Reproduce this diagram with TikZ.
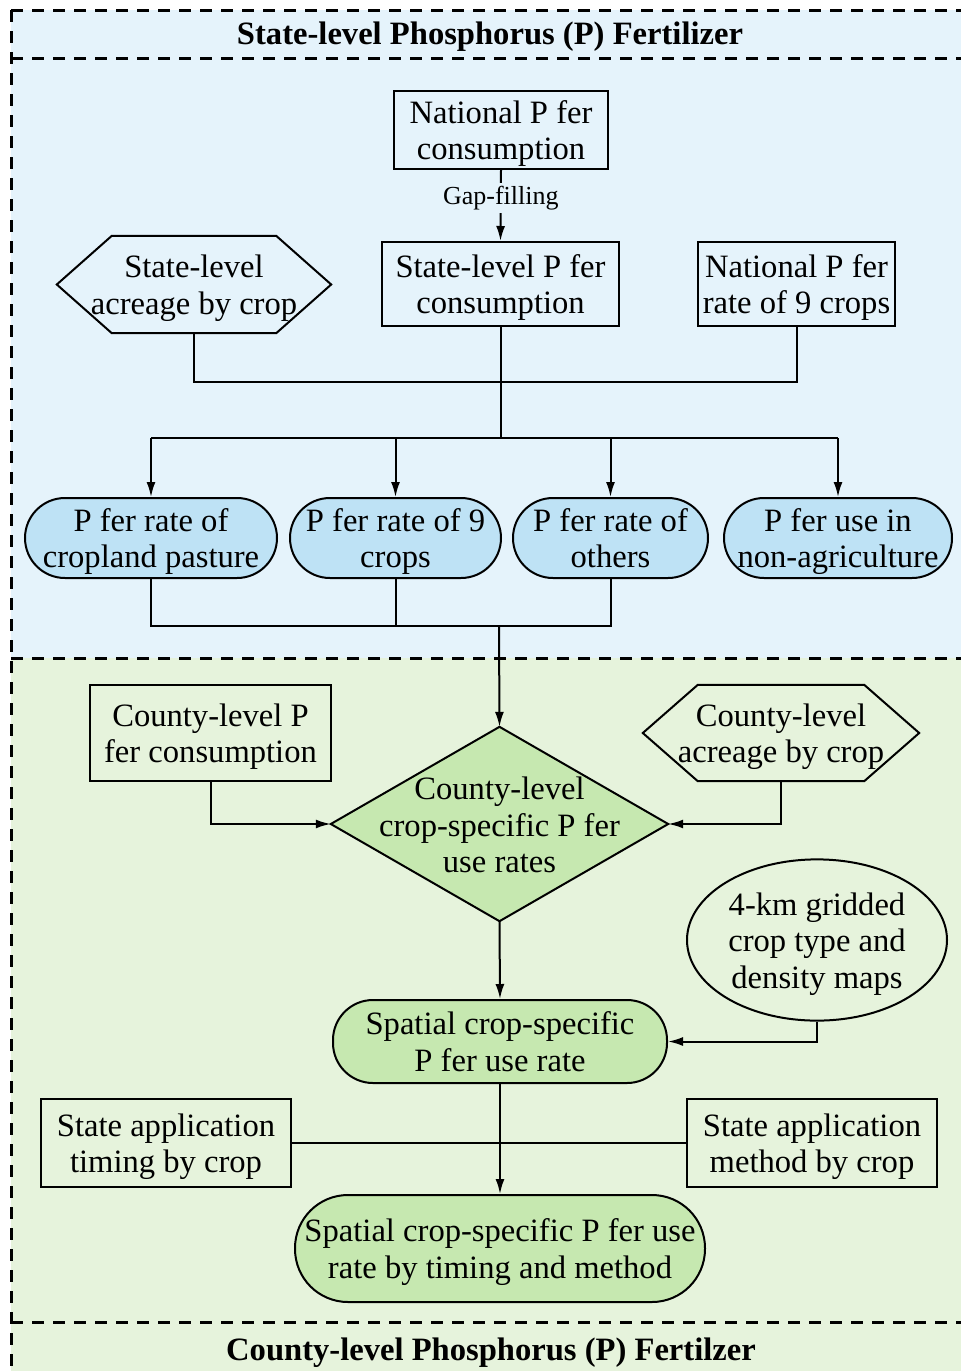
\documentclass[tikz,border=0pt]{standalone}
\usepackage{fontspec}
\setmainfont{Liberation Serif}
\usetikzlibrary{arrows.meta,shapes.geometric,calc}
\definecolor{bluebg}{HTML}{E5F3FB}
\definecolor{bluefill}{HTML}{BEE2F5}
\definecolor{greenbg}{HTML}{E6F3DC}
\definecolor{greenfill}{HTML}{C6E8B0}
\newcommand{\topstrut}{\rule{0pt}{32pt}}
\newcommand{\botstrut}{\rule[-9pt]{0pt}{9pt}}
\tikzset{
  txt/.style={font=\fontsize{32.6}{36.5}\selectfont, align=center, inner sep=0pt},
  rectbox/.style={txt, draw, line width=2pt},
  stad/.style={txt, draw, line width=2pt, rounded corners=40pt},
  plain/.style={txt},
  hexline/.style={line width=2pt, line join=miter},
  conn/.style={line width=2pt},
  arr/.style={conn, -{Latex[length=15pt,width=9pt]}},
  sepline/.style={line width=3pt, dash pattern=on 12pt off 9pt},
  title/.style={font=\bfseries\fontsize{32.6}{36}\selectfont, inner sep=0pt},
}
\begin{document}
\begin{tikzpicture}[x=1pt,y=-1pt]
\useasboundingbox (0,0) rectangle (961,1371);
% backgrounds
\fill[bluebg] (11,10) rectangle (961,658);
\fill[greenbg] (11,658) rectangle (961,1371);
% separators
\draw[sepline] (11,10) -- (961,10);
\draw[sepline] (11,58) -- (961,58);
\draw[sepline] (11,658) -- (961,658);
\draw[sepline] (11,1322) -- (961,1322);
\draw[sepline] (11,10) -- (11,1371);
% titles
\node[title] (ttop) at (490,37) {State-level Phosphorus (P) Fertilizer};
\node[title] (tbot) at (491,1353) {County-level Phosphorus (P) Fertilzer};

% ---- state level ----
\node[rectbox, minimum width=214, minimum height=78] (nat) at (501,130) {\topstrut National P fer\\consumption\botstrut};
\node[rectbox, minimum width=237, minimum height=84] (scons) at (500.5,284) {\topstrut State-level P fer\\consumption\botstrut};
\node[plain, minimum width=274, minimum height=97] (sacr) at (194,284.5) {\topstrut State-level\\acreage by crop\botstrut};
\draw[hexline] (sacr.west) -- ([xshift=55]sacr.north west) -- ([xshift=-55]sacr.north east) -- (sacr.east) -- ([xshift=-55]sacr.south east) -- ([xshift=55]sacr.south west) -- cycle;
\node[rectbox, minimum width=197, minimum height=84] (nat9) at (796.5,284) {\topstrut National P fer\\rate of 9 crops\botstrut};

\draw[arr] (nat.south) -- node[pos=0.4, fill=bluebg, inner sep=3pt, font=\fontsize{26}{30}\selectfont] (gap) {Gap-filling} (scons.north);

\node[stad, fill=bluefill, minimum width=252, minimum height=80] (e1) at (151,538) {\topstrut P fer rate of\\cropland pasture\botstrut};
\node[stad, fill=bluefill, minimum width=211, minimum height=80] (e2) at (395.5,538) {\topstrut P fer rate of 9\\crops\botstrut};
\node[stad, fill=bluefill, minimum width=195, minimum height=80] (e3) at (610.5,538) {\topstrut P fer rate of\\others\botstrut};
\node[stad, fill=bluefill, minimum width=228, minimum height=80] (e4) at (838,538) {\topstrut P fer use in\\non-agriculture\botstrut};

\coordinate (j1) at (500.5,382);
\coordinate (j2) at (500.5,438);
\coordinate (j3) at (499,626);
\draw[conn] (sacr.south) -- (sacr.south |- j1) -- (nat9.south |- j1) -- (nat9.south);
\draw[conn] (scons.south) -- (j2);
\draw[conn] (e1.north |- j2) -- (e4.north |- j2);
\draw[arr] (e1.north |- j2) -- (e1.north);
\draw[arr] (e2.north |- j2) -- (e2.north);
\draw[arr] (e3.north |- j2) -- (e3.north);
\draw[arr] (e4.north |- j2) -- (e4.north);
\draw[conn] (e1.south) -- (e1.south |- j3) -- (e3.south |- j3) -- (e3.south);
\draw[conn] (e2.south) -- (e2.south |- j3);

% ---- county level ----
\node[rectbox, minimum width=241, minimum height=96] (ccons) at (210.5,733) {\topstrut County-level P\\fer consumption\botstrut};
\node[plain, minimum width=276, minimum height=96] (cacr) at (781,733) {\topstrut County-level\\acreage by crop\botstrut};
\draw[hexline] (cacr.west) -- ([xshift=55]cacr.north west) -- ([xshift=-55]cacr.north east) -- (cacr.east) -- ([xshift=-55]cacr.south east) -- ([xshift=55]cacr.south west) -- cycle;

\node[minimum width=337, minimum height=194, inner sep=0pt] (dia) at (499.5,824) {};
\draw[hexline, fill=greenfill] (dia.north) -- (dia.east) -- (dia.south) -- (dia.west) -- cycle;
\node[plain] (diat) at ([yshift=-1]dia.center) {County-level\\crop-specific P fer\\use rates};

\draw[arr] (j3) -- (dia.north);
\draw[arr] (ccons.south) |- (dia.west);
\draw[arr] (cacr.south) |- (dia.east);

\node[txt, draw, line width=2pt, ellipse, minimum width=260, minimum height=140] (grid) at (817,940) {\topstrut 4-km gridded\\crop type and\\density maps\botstrut};
\node[stad, fill=greenfill, minimum width=334, minimum height=83] (spat) at (500,1041.5) {\topstrut Spatial crop-specific\\P fer use rate\botstrut};
\draw[arr] (dia.south) -- (spat.north);
\draw[arr] (grid.south) |- (spat.east);

\node[rectbox, minimum width=250, minimum height=88] (timing) at (166,1143) {\topstrut State application\\timing by crop\botstrut};
\node[rectbox, minimum width=250, minimum height=88] (method) at (812,1143) {\topstrut State application\\method by crop\botstrut};
\node[stad, fill=greenfill, rounded corners=53pt, minimum width=410, minimum height=107] (final) at (500,1248.5) {\topstrut Spatial crop-specific P fer use\\rate by timing and method\botstrut};
\draw[conn] (timing.east) -- (method.west);
\draw[arr] (spat.south) -- (final.north);
\end{tikzpicture}
\end{document}
